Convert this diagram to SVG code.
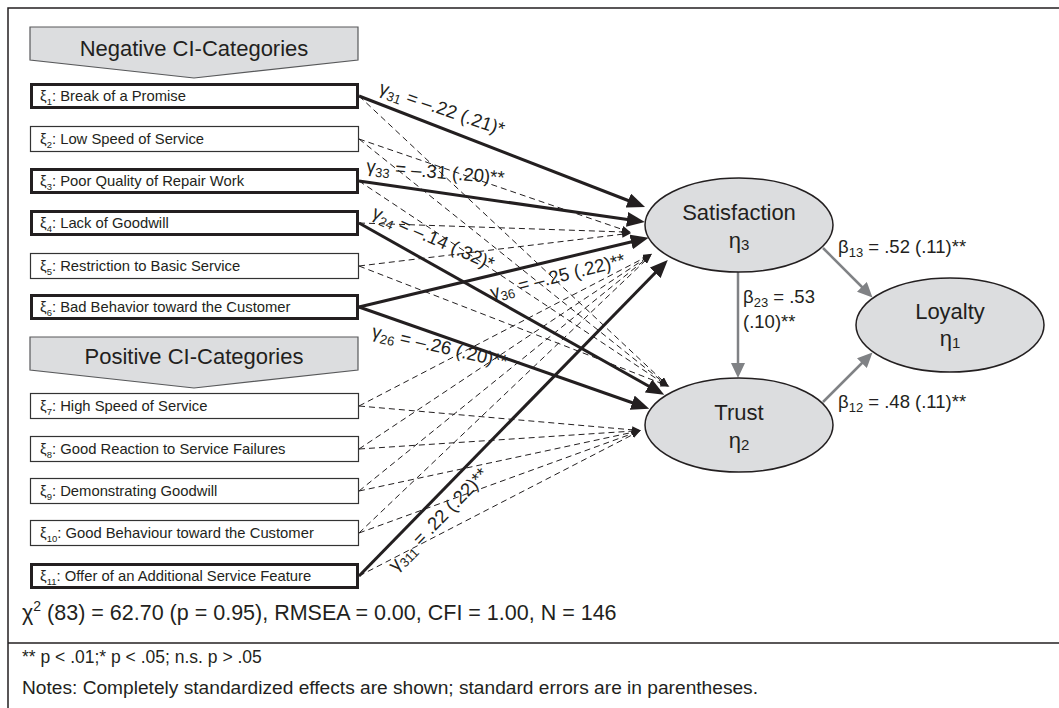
<svg xmlns="http://www.w3.org/2000/svg" width="1059" height="708" viewBox="0 0 1059 708">
<style>
text{font-family:"Liberation Sans",Arial,sans-serif;fill:#231f20}
.frame{stroke:#231f20;stroke-width:1.5;fill:none}
.banner{fill:#dcdddf;stroke:#58595b;stroke-width:1.2}
.bt{font-size:22px;text-anchor:middle}
.box{fill:#fff;stroke:#333;stroke-width:1.2}
.box.sig{stroke:#231f20;stroke-width:3}
.bl{font-size:14.8px}
.ell{fill:#dcdddf;stroke:#231f20;stroke-width:1.5}
.et{font-size:22px;text-anchor:middle}
.thick{stroke:#231f20;stroke-width:3;fill:none;marker-end:url(#ah)}
.dash{stroke:#231f20;stroke-width:1;stroke-dasharray:6 4;fill:none;marker-end:url(#ahs)}
.gray{stroke:#808285;stroke-width:2.5;fill:none;marker-end:url(#ahg)}
.lab{font-size:18.5px}
.stat{font-size:21.5px}
.note{font-size:17.5px}
</style>
<defs>
<marker id="ah" markerUnits="userSpaceOnUse" markerWidth="19" markerHeight="15" viewBox="0 0 19 15" refX="4" refY="7.5" orient="auto"><path d="M0,0 L18,7.5 L0,15 z" fill="#231f20"/></marker>
<marker id="ahs" markerUnits="userSpaceOnUse" markerWidth="9" markerHeight="7" viewBox="0 0 9 7" refX="2" refY="3.5" orient="auto"><path d="M0,0 L9,3.5 L0,7 z" fill="#231f20"/></marker>
<marker id="ahg" markerUnits="userSpaceOnUse" markerWidth="16" markerHeight="14" viewBox="0 0 16 14" refX="3" refY="7" orient="auto"><path d="M0,0 L15,7 L0,14 z" fill="#808285"/></marker>
</defs>
<rect width="1059" height="708" fill="#fff"/>
<g id="frame">
<path class="frame" d="M8,708 L8,8 L1059,8"/>
<path class="frame" d="M8,643 L1059,643"/>
</g>
<g id="banner-negative">
<polygon class="banner" points="30,27 358,27 358,60 194,78 30,60"/>
<text class="bt" x="194" y="56">Negative CI-Categories</text>
</g>
<g id="banner-positive">
<polygon class="banner" points="30,337 358,337 358,370 194,388 30,370"/>
<text class="bt" x="194" y="364">Positive CI-Categories</text>
</g>
<g id="connectors">
<line class="dash" x1="359" y1="139" x2="624" y2="230"/>
<line class="dash" x1="359" y1="223" x2="624" y2="232"/>
<line class="dash" x1="359" y1="266" x2="624" y2="234"/>
<line class="dash" x1="359" y1="406" x2="646" y2="257"/>
<line class="dash" x1="359" y1="449" x2="646" y2="258"/>
<line class="dash" x1="359" y1="491" x2="646" y2="259"/>
<line class="dash" x1="359" y1="533" x2="646" y2="260"/>
<line class="dash" x1="359" y1="96" x2="663" y2="381"/>
<line class="dash" x1="359" y1="139" x2="663" y2="382"/>
<line class="dash" x1="359" y1="181" x2="663" y2="383"/>
<line class="dash" x1="359" y1="266" x2="663" y2="384"/>
<line class="dash" x1="359" y1="406" x2="634" y2="430"/>
<line class="dash" x1="359" y1="449" x2="634" y2="431"/>
<line class="dash" x1="359" y1="491" x2="634" y2="432"/>
<line class="dash" x1="359" y1="533" x2="634" y2="433"/>
<line class="dash" x1="359" y1="576" x2="634" y2="434"/>
<line class="thick" x1="359" y1="96" x2="632" y2="202"/>
<line class="thick" x1="359" y1="181" x2="631" y2="220"/>
<line class="thick" x1="359" y1="307" x2="635" y2="241"/>
<line class="thick" x1="359" y1="576" x2="658" y2="270"/>
<line class="thick" x1="359" y1="223" x2="652" y2="388"/>
<line class="thick" x1="359" y1="307" x2="636" y2="404"/>
<line class="gray" x1="738" y1="272" x2="738" y2="366"/>
<line class="gray" x1="823" y1="248" x2="864" y2="289"/>
<line class="gray" x1="823" y1="402" x2="864" y2="361"/>
<text class="lab" transform="translate(378,93) rotate(19)">γ<tspan font-size="13" dy="4">31</tspan><tspan dy="-4"> = –.22 (.21)*</tspan></text>
<text class="lab" transform="translate(366,172) rotate(5)">γ<tspan font-size="13" dy="4">33</tspan><tspan dy="-4"> = –.31 (.20)**</tspan></text>
<text class="lab" transform="translate(371,217) rotate(24)">γ<tspan font-size="13" dy="4">24</tspan><tspan dy="-4"> = –.14 (.32)*</tspan></text>
<text class="lab" transform="translate(492,299) rotate(-14)">γ<tspan font-size="13" dy="4">36</tspan><tspan dy="-4"> = –.25 (.22)**</tspan></text>
<text class="lab" transform="translate(371,337) rotate(13)">γ<tspan font-size="13" dy="4">26</tspan><tspan dy="-4"> = –.26 (.20)**</tspan></text>
<text class="lab" transform="translate(396,572) rotate(-46)">γ<tspan font-size="13" dy="4">311</tspan><tspan dy="-4"> = .22 (.22)**</tspan></text>
<text class="lab" x="743" y="303">β<tspan font-size="13" dy="4">23</tspan><tspan dy="-4"> = .53</tspan></text>
<text class="lab" x="743" y="328">(.10)**</text>
<text class="lab" x="838" y="253">β<tspan font-size="13" dy="4">13</tspan><tspan dy="-4"> = .52 (.11)**</tspan></text>
<text class="lab" x="838" y="408">β<tspan font-size="13" dy="4">12</tspan><tspan dy="-4"> = .48 (.11)**</tspan></text>
</g>
<g id="xi1"><rect class="box sig" x="31.5" y="84.5" width="326" height="23"/><text class="bl" x="40" y="101">ξ<tspan font-size="9.5" dy="4">1</tspan><tspan dy="-4">: Break of a Promise</tspan></text></g>
<g id="xi2"><rect class="box" x="30.5" y="126.5" width="328" height="25"/><text class="bl" x="40" y="144">ξ<tspan font-size="9.5" dy="4">2</tspan><tspan dy="-4">: Low Speed of Service</tspan></text></g>
<g id="xi3"><rect class="box sig" x="31.5" y="169.5" width="326" height="23"/><text class="bl" x="40" y="186">ξ<tspan font-size="9.5" dy="4">3</tspan><tspan dy="-4">: Poor Quality of Repair Work</tspan></text></g>
<g id="xi4"><rect class="box sig" x="31.5" y="211.5" width="326" height="23"/><text class="bl" x="40" y="228">ξ<tspan font-size="9.5" dy="4">4</tspan><tspan dy="-4">: Lack of Goodwill</tspan></text></g>
<g id="xi5"><rect class="box" x="30.5" y="253.5" width="328" height="25"/><text class="bl" x="40" y="271">ξ<tspan font-size="9.5" dy="4">5</tspan><tspan dy="-4">: Restriction to Basic Service</tspan></text></g>
<g id="xi6"><rect class="box sig" x="31.5" y="295.5" width="326" height="23"/><text class="bl" x="40" y="312">ξ<tspan font-size="9.5" dy="4">6</tspan><tspan dy="-4">: Bad Behavior toward the Customer</tspan></text></g>
<g id="xi7"><rect class="box" x="30.5" y="393.5" width="328" height="25"/><text class="bl" x="40" y="411">ξ<tspan font-size="9.5" dy="4">7</tspan><tspan dy="-4">: High Speed of Service</tspan></text></g>
<g id="xi8"><rect class="box" x="30.5" y="436.5" width="328" height="25"/><text class="bl" x="40" y="454">ξ<tspan font-size="9.5" dy="4">8</tspan><tspan dy="-4">: Good Reaction to Service Failures</tspan></text></g>
<g id="xi9"><rect class="box" x="30.5" y="478.5" width="328" height="25"/><text class="bl" x="40" y="496">ξ<tspan font-size="9.5" dy="4">9</tspan><tspan dy="-4">: Demonstrating Goodwill</tspan></text></g>
<g id="xi10"><rect class="box" x="30.5" y="520.5" width="328" height="25"/><text class="bl" x="40" y="538">ξ<tspan font-size="9.5" dy="4">10</tspan><tspan dy="-4">: Good Behaviour toward the Customer</tspan></text></g>
<g id="xi11"><rect class="box sig" x="31.5" y="564.5" width="326" height="23"/><text class="bl" x="40" y="581">ξ<tspan font-size="9.5" dy="4">11</tspan><tspan dy="-4">: Offer of an Additional Service Feature</tspan></text></g>
<g id="satisfaction"><ellipse class="ell" cx="739" cy="225" rx="94" ry="47"/><text class="et" x="739" y="220">Satisfaction</text><text class="et" x="739" y="248">η<tspan font-size="15" dy="2">3</tspan></text></g>
<g id="trust"><ellipse class="ell" cx="739" cy="425" rx="94" ry="47"/><text class="et" x="739" y="420">Trust</text><text class="et" x="739" y="448">η<tspan font-size="15" dy="2">2</tspan></text></g>
<g id="loyalty"><ellipse class="ell" cx="950" cy="325" rx="94" ry="47"/><text class="et" x="950" y="319">Loyalty</text><text class="et" x="950" y="346">η<tspan font-size="15" dy="2">1</tspan></text></g>
<g id="notes">
<text class="stat" x="22" y="620">χ<tspan font-size="14" dy="-9">2</tspan><tspan dy="9"> (83) = 62.70 (p = 0.95), RMSEA = 0.00, CFI = 1.00,  N = 146</tspan></text>
<text class="note" x="22" y="663">** p &lt; .01;* p &lt; .05; n.s. p &gt; .05</text>
<text class="note" x="22" y="694" textLength="736" lengthAdjust="spacingAndGlyphs">Notes: Completely standardized effects are shown; standard errors are in parentheses.</text>
</g>
</svg>
